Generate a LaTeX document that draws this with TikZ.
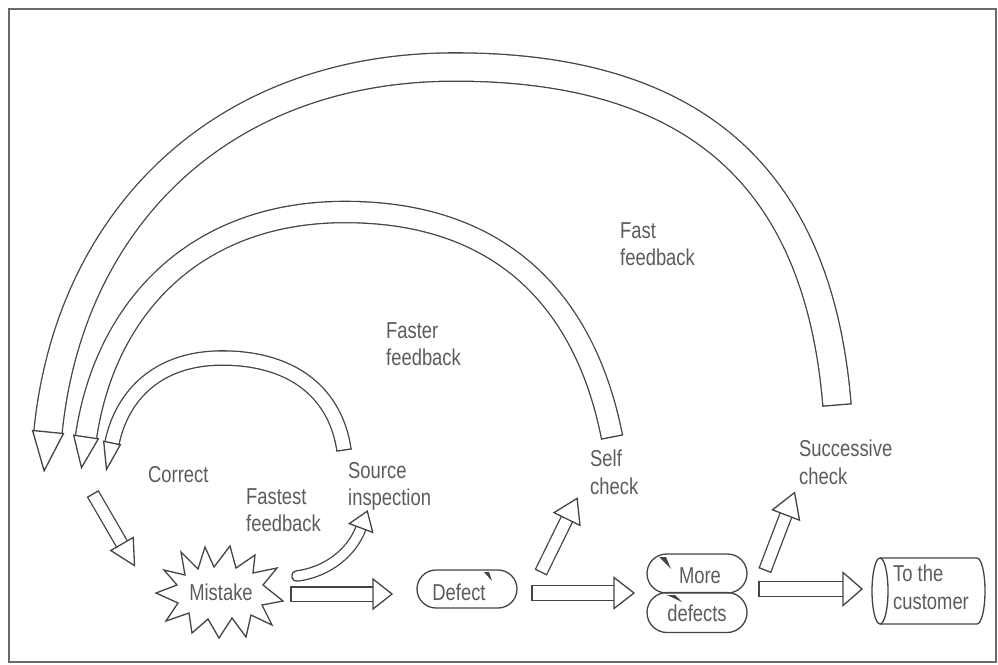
\documentclass[tikz,border=0pt]{standalone}
\usepackage{fontspec}
\setmainfont{Liberation Sans}[FakeStretch=0.8]
\usetikzlibrary{decorations.markings,shapes.misc}
\definecolor{linecol}{HTML}{444444}
\definecolor{textcol}{HTML}{5C5C5C}
\definecolor{framecol}{HTML}{6A6A6A}
\def\lwv{1.3}
\tikzset{
  hollow/.style n args={4}{%
    preaction={draw=linecol, line width=\lwv pt, double=white, double distance=#1pt, line cap=#4},
    postaction={decorate, decoration={markings,
      mark=at position 1 with {\draw[draw=linecol, line width=\lwv pt, fill=white, line join=miter] (0,-#2) -- (#3,0) -- (0,#2) -- cycle;}}}},
  flatend/.style={postaction={decorate, decoration={markings,
      mark=at position 0 with {\draw[draw=linecol, line width=\lwv pt, line cap=butt] (0,{-(#1/2+\lwv)}) -- (0,{#1/2+\lwv});}}}},
  lbl/.style={font=\fontsize{23}{27.5}\selectfont, text=textcol, align=left, inner sep=0pt, anchor=north west},
  boxtxt/.style={font=\fontsize{23}{27.5}\selectfont, text=textcol, inner sep=0pt},
  stad/.style={rounded rectangle, draw=linecol, line width=\lwv pt, minimum width=100pt, inner sep=0pt},
  outl/.style={draw=linecol, line width=\lwv pt},
  chip/.style={fill=linecol},
}
\begin{document}
\begin{tikzpicture}[x=1pt, y=-1pt]
\useasboundingbox (0,0) rectangle (998,664);
\fill[white] (0,0) rectangle (998,664);
\draw[framecol, line width=1.3pt] (9,9) rectangle (996,662);

% ---- nodes ----
\node[boxtxt] (mistake) at (221,592) {Mistake};
\node[stad, minimum height=38pt] (defect) at (467,589) {};
\node[boxtxt] (defecttxt) at (459,592) {Defect};
\node[stad, minimum height=39pt] (more) at (697,573.5) {};
\node[boxtxt] (moretxt) at (700,576) {More};
\node[stad, minimum height=40pt] (defects) at (697,612.5) {};
\node[boxtxt] (defectstxt) at (697,613) {defects};
\node[lbl] (customer) at (893,565) {To the\\customer};

% star around "Mistake"
\draw[outl, line join=miter] (156,593) -- (177,585) -- (164,570) -- (185,575) -- (181,552) -- (198,569)
  -- (205,547) -- (214,567) -- (230,546) -- (236,568) -- (255,555) -- (253,573) -- (277,568)
  -- (263,585) -- (283,601) -- (262,605) -- (272,625) -- (251,615) -- (246,637) -- (232,618)
  -- (219,638) -- (208,619) -- (192,633) -- (189,613) -- (166,621) -- (178,603) -- cycle;

% chips on defects
\fill[chip] (484,572) -- (489,572) -- (492,581) -- cycle;
\fill[chip] (659,557) -- (666,557) -- (671,569) -- cycle;
\fill[chip] (667,595) -- (675,595) -- (682,602) -- cycle;

% cylinder "To the customer"
\draw[outl] (880,591) ellipse [x radius=8, y radius=33];
\draw[outl] (880,558) -- (977,558) arc[start angle=-90, end angle=90, x radius=8, y radius=33] -- (880,624);

% ---- labels ----
\node[lbl] (fastlbl) at (620,222) {Fast\\feedback};
\node[lbl] (fasterlbl) at (386,322) {Faster\\feedback};
\node[lbl] (correct) at (148,466) {Correct};
\node[lbl] (fastestlbl) at (246,488) {Fastest\\feedback};
\node[lbl] (source) at (348,462) {Source\\inspection};
\node[lbl] (selfchk) at (590,450) {Self\\check};
\node[lbl] (succchk) at (799,440) {Successive\\check};

% ---- coordinates for hollow arrows ----
\coordinate (fbS) at (837,405); \coordinate (fbT) at (455,67);  \coordinate (fbE) at (48,432);
\coordinate (frS) at (612,437); \coordinate (frT) at (345,212); \coordinate (frE) at (86,437);
\coordinate (ftS) at (344,450); \coordinate (ftT) at (222,358); \coordinate (ftE) at (112,443);
\coordinate (corS) at (93,494);  \coordinate (corE) at (122,544);
\coordinate (ffS) at (297,576);  \coordinate (ffE) at (361,528);
\coordinate (scS) at (541,572);  \coordinate (scE) at (567,519);
\coordinate (suS) at (765,570);  \coordinate (suE) at (786,515);
\coordinate (a1S) at (291,594);  \coordinate (a1E) at (373,594);
\coordinate (a2S) at (532,593);  \coordinate (a2E) at (614,593);
\coordinate (a3S) at (759,589);  \coordinate (a3E) at (843,589);

% feedback loops
\path[hollow={27}{15.5}{39}{butt}, flatend=27]
  (fbS) .. controls (819,185) and (703,67) .. (fbT) .. controls (219,67) and (69,221) .. (fbE);
\path[hollow={20}{12.5}{31}{butt}, flatend=20]
  (frS) .. controls (586,305) and (505,212) .. (frT) .. controls (195,212) and (105,308) .. (frE);
\path[hollow={13}{8.5}{27}{butt}, flatend=13]
  (ftS) .. controls (336,395) and (295,358) .. (ftT) .. controls (158,358) and (122,395) .. (ftE);

% correct arrow
\path[hollow={11}{13}{25}{butt}, flatend=11] (corS) -- (corE);
% fastest feedback curved arrow
\path[hollow={9}{12.5}{18}{round}] (ffS) .. controls (328,572) and (352,552) .. (ffE);
% self check / successive check
\path[hollow={11}{14.5}{23}{butt}, flatend=11] (scS) -- (scE);
\path[hollow={11}{14.5}{24}{butt}, flatend=11] (suS) -- (suE);
% process arrows
\path[hollow={13}{15}{19}{butt}, flatend=13] (a1S) -- (a1E);
\path[hollow={14}{15.5}{20}{butt}, flatend=14] (a2S) -- (a2E);
\path[hollow={14}{16.5}{19}{butt}, flatend=14] (a3S) -- (a3E);
\end{tikzpicture}
\end{document}
